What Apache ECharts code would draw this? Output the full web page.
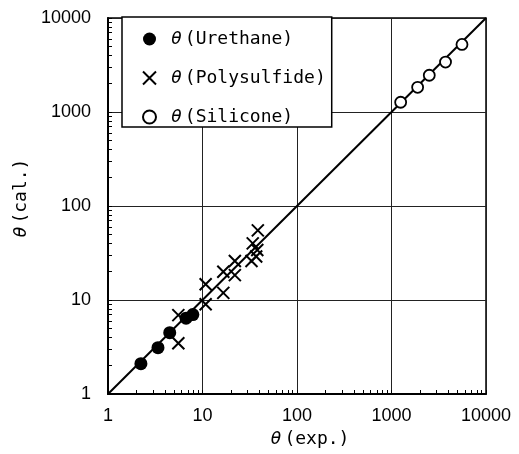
<!DOCTYPE html>
<html>
<head>
<meta charset="utf-8">
<script src="https://cdn.jsdelivr.net/npm/echarts@6/dist/echarts.min.js"></script>
<style>
  html, body { margin: 0; padding: 0; background: #fff; }
  #chart { width: 519px; height: 454px; }
</style>
</head>
<body>
<div id="chart"></div>
<script>
// Measured vs. calculated theta for three sealant types (log-log)
const urethaneExp = [2.23, 3.38, 4.5, 6.7, 7.9];
const urethaneCal = [2.10, 3.11, 4.49, 6.4, 7.0];

const polysulfideExp = [5.55, 5.55, 10.8, 10.8, 16.6, 16.6, 22, 22, 33, 37, 38, 34, 38.5];
const polysulfideCal = [6.9, 3.46, 14.7, 9.0, 20, 11.9, 26, 18.4, 26, 29, 34, 40, 55];

const siliconeExp = [1250, 1890, 2510, 3730, 5570];
const siliconeCal = [1270, 1830, 2460, 3400, 5230];

// 1:1 reference line
const lineX = [1, 10000];
const lineY = [1, 10000];

const axisMin = 1;
const axisMax = 10000;

// minor tick positions for each decade: 1..9 x 10^n
const minorTicks = [];
for (let p = 0; p < 4; p++) {
  for (let m = 1; m <= 9; m++) minorTicks.push(m * Math.pow(10, p));
}
minorTicks.push(10000);

const pairs = (xs, ys) => xs.map((x, i) => [x, ys[i]]);

const monoFont = '"DejaVu Sans Mono", "Liberation Mono", monospace';
const labelFont = '"Liberation Sans", Arial, sans-serif';
const nameRich = {
  g: { fontFamily: monoFont, fontStyle: 'italic', fontSize: 18, color: '#000', padding: [0, 3, 0, 0] },
  t: { fontFamily: monoFont, fontSize: 18, color: '#000' }
};

const chart = echarts.init(document.getElementById('chart'), null, { renderer: 'canvas' });

const crossPath = 'path://M0,0L10,10M10,0L0,10';

// main axis: decade gridlines and labels
function mainAxis(extra) {
  return Object.assign({
    type: 'log', logBase: 10, min: axisMin, max: axisMax,
    axisLine: { show: true, lineStyle: { color: '#000', width: 2 } },
    axisTick: { show: false },
    axisLabel: { color: '#000', fontFamily: labelFont, fontSize: 18, formatter: v => String(v) },
    splitLine: { show: true, lineStyle: { color: '#222', width: 1 } }
  }, extra);
}

// overlay axis carrying only the inside minor ticks
function tickAxis(pos) {
  return {
    type: 'log', logBase: 10, min: axisMin, max: axisMax, position: pos,
    axisLine: { show: false },
    axisTick: { show: true, inside: true, length: 4, customValues: minorTicks, lineStyle: { color: '#000', width: 1 } },
    axisLabel: { show: false },
    splitLine: { show: false }
  };
}

const xMain = mainAxis({
  name: '{g|θ}{t|(exp.)}',
  nameLocation: 'middle', nameGap: 31,
  nameTextStyle: { rich: nameRich, padding: [0, 0, 0, 26] }
});
xMain.axisLabel.margin = 13;

const yMain = mainAxis({
  name: '{g|θ}{t|(cal.)}',
  nameLocation: 'middle', nameGap: 74, nameRotate: 90,
  nameTextStyle: { rich: nameRich, padding: [0, 0, 0, 16] }
});
yMain.axisLabel.margin = 17;

chart.setOption({
  animation: false,
  backgroundColor: '#fff',
  grid: {
    left: 108, right: 33, top: 18, bottom: 60,
    show: true, borderColor: '#000', borderWidth: 1.5, backgroundColor: 'transparent'
  },
  legend: {
    left: 122, top: 17,
    orient: 'vertical',
    backgroundColor: '#fff',
    borderColor: '#000', borderWidth: 1.5, borderRadius: 0,
    padding: [13, 6, 1, 20],
    itemGap: 21,
    itemWidth: 13, itemHeight: 13,
    selectedMode: false,
    data: [
      { name: 'Urethane' },
      { name: 'Polysulfide', itemStyle: { borderWidth: 2 } },
      { name: 'Silicone' }
    ],
    formatter: name => '{g|θ}{t|(' + name + ')}',
    textStyle: {
      rich: {
        g: { fontFamily: monoFont, fontStyle: 'italic', fontSize: 18, color: '#000', padding: [0, 3, 0, 10] },
        t: { fontFamily: monoFont, fontSize: 18, color: '#000' }
      }
    }
  },
  xAxis: [xMain, tickAxis('bottom')],
  yAxis: [yMain, tickAxis('left')],
  series: [
    {
      name: 'Line', type: 'line', data: pairs(lineX, lineY),
      showSymbol: false, symbol: 'none',
      lineStyle: { color: '#000', width: 2 }, z: 2
    },
    {
      name: 'Urethane', type: 'scatter', data: pairs(urethaneExp, urethaneCal),
      symbol: 'circle', symbolSize: 13,
      itemStyle: { color: '#000', opacity: 1 }, z: 3
    },
    {
      name: 'Polysulfide', type: 'scatter', data: pairs(polysulfideExp, polysulfideCal),
      symbol: crossPath, symbolSize: 12,
      itemStyle: { color: 'transparent', borderColor: '#000', borderWidth: 2, opacity: 1 }, z: 3
    },
    {
      name: 'Silicone', type: 'scatter', data: pairs(siliconeExp, siliconeCal),
      symbol: 'circle', symbolSize: 11,
      itemStyle: { color: '#fff', borderColor: '#000', borderWidth: 1.8, opacity: 1 }, z: 3
    }
  ]
});
</script>
</body>
</html>
